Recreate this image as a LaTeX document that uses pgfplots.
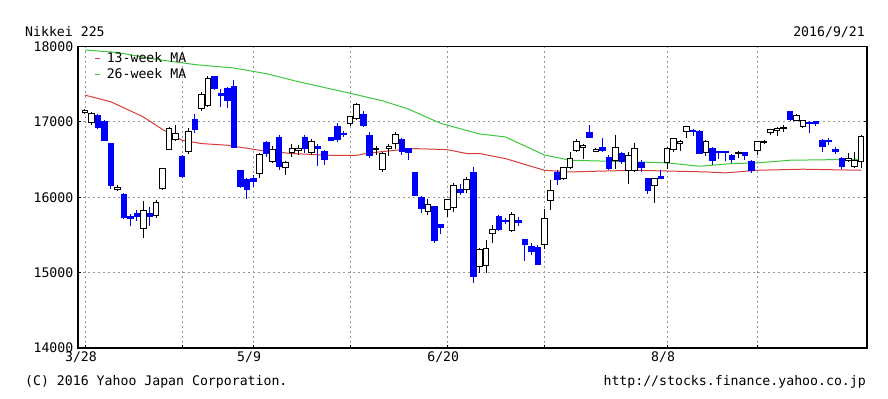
\documentclass[border=0pt]{standalone}
\usepackage{pgfplots}
\pgfplotsset{compat=1.18}
\usepackage{pgfplotstable}
\usepackage{fontspec}
\setmainfont{DejaVu Sans Mono}
\newcommand\cf{\fontsize{13.2bp}{15bp}\selectfont}
\definecolor{mared}{RGB}{214,60,60}
\definecolor{magreen}{RGB}{60,200,60}
\definecolor{candleblue}{RGB}{0,0,255}
\definecolor{gridgray}{RGB}{150,150,150}

\pgfdeclareplotmark{candle}{%
  \pgfpathrectangle{\pgfpoint{-2.8bp}{-0.5bp*\bodyh}}{\pgfpoint{5.6bp}{1bp*\bodyh}}%
  \pgfusepathqfillstroke}

\pgfplotstableread{
i o h l c
0 17125 17170 17100 17150
1 16990 17130 16960 17105
5 16100 16165 16080 16123
9 15590 15950 15457 15821
11 15760 15965 15720 15935
12 16112 16393 16097 16381
13 16640 16930 16627 16911
14 16765 16963 16740 16848
16 16605 16915 16580 16874
18 17180 17390 17150 17363
19 17220 17613 17200 17572
27 16313 16583 16253 16565
29 16470 16680 16450 16640
31 16395 16477 16301 16466
32 16600 16707 16531 16652
33 16620 16688 16560 16644
35 16590 16775 16560 16736
41 16980 17080 16950 17066
42 17044 17251 17023 17234
45 16630 16680 16560 16642
46 16370 16600 16340 16580
47 16645 16706 16550 16675
48 16712 16860 16641 16830
53 15810 15978 15760 15905
56 15834 15977 15736 15965
57 15870 16190 15800 16157
59 16100 16272 16060 16238
61 15085 15330 14990 15305
62 15090 15432 14990 15323
63 15518 15628 15390 15566
66 15555 15799 15540 15776
71 15376 15850 15312 15716
72 15960 16225 15834 16093
74 16248 16402 16230 16394
75 16394 16600 16380 16513
76 16615 16767 16596 16735
77 16665 16700 16513 16681
79 16615 16650 16607 16627
82 16482 16823 16379 16660
84 16358 16600 16170 16557
85 16358 16724 16340 16646
88 16159 16256 15925 16248
90 16460 16668 16379 16646
91 16633 16790 16600 16779
92 16720 16760 16613 16735
93 16867 16942 16780 16933
96 16588 16762 16551 16745
101 16575 16608 16525 16597
104 16624 16749 16558 16737
105 16720 16760 16707 16737
106 16854 16911 16830 16903
107 16890 16930 16810 16910
108 16915 16953 16861 16930
110 17022 17107 17010 17088
111 16934 17030 16920 17012
118 16490 16584 16465 16519
119 16403 16596 16385 16492
120 16469 16829 16385 16807
}\up

\pgfplotstableread{
i o h l c
2 17080 17110 16900 16930
3 17010 17020 16750 16758
4 16719 16725 16112 16164
6 16040 16050 15709 15732
7 15750 15780 15620 15715
8 15780 15830 15689 15749
10 15790 15865 15625 15751
15 16540 16560 16252 16275
17 17040 17100 16851 16906
20 17600 17610 17421 17440
21 17380 17440 17200 17353
22 17440 17460 17187 17290
23 17466 17560 16666 16666
24 16357 16357 16123 16147
25 16240 16250 15975 16106
26 16246 16294 16133 16216
28 16734 16750 16534 16579
30 16800 16820 16361 16412
34 16800 16830 16593 16646
36 16680 16702 16420 16654
37 16614 16630 16426 16498
38 16790 16800 16740 16757
39 16940 16980 16737 16772
40 16850 16880 16800 16838
43 17100 17146 16931 16955
44 16822 16861 16524 16562
49 16765 16790 16560 16610
50 16645 16650 16500 16601
51 16326 16340 16011 16019
52 16000 16010 15790 15859
54 15873 15890 15395 15434
55 15640 15646 15512 15599
58 16100 16180 16033 16065
60 16336 16400 14864 14952
64 15748 15760 15547 15575
65 15700 15720 15650 15682
67 15690 15743 15615 15669
68 15437 15437 15160 15379
69 15346 15389 15230 15276
70 15330 15373 15106 15106
73 16336 16360 16161 16231
78 16860 16956 16780 16795
80 16660 16780 16600 16624
81 16535 16560 16364 16383
83 16588 16600 16440 16476
86 16469 16500 16331 16403
87 16248 16260 16042 16093
89 16279 16358 16239 16254
94 16890 16903 16819 16869
95 16880 16890 16569 16588
97 16646 16660 16431 16486
98 16610 16620 16502 16590
99 16610 16618 16484 16598
100 16557 16570 16454 16497
102 16590 16601 16497 16555
103 16482 16500 16320 16360
109 17133 17150 17007 17037
112 17000 17012 16850 16975
113 17000 17010 16940 16985
114 16757 16770 16600 16672
115 16760 16780 16690 16740
116 16640 16664 16570 16614
117 16522 16530 16380 16405
}\down

\begin{document}
\begin{tikzpicture}
\useasboundingbox (0,0) rectangle (888bp,399bp);
\begin{axis}[
  at={(78bp,51bp)}, anchor=south west,
  width=789bp, height=301.5bp, scale only axis,
  xmin=-1.08, xmax=120.9, ymin=14000, ymax=18000,
  scaled x ticks=false, scaled y ticks=false,
  xtick={0,15,26,41,56,71,90,104},
  xticklabels={3/28,,5/9,,6/20,,8/8,},
  ytick={14000,15000,16000,17000,18000},
  yticklabels={14000,15000,16000,17000,18000},
  xmajorgrids, ymajorgrids,
  grid style={gridgray, line width=0.9bp, dash pattern=on 2bp off 3bp},
  axis line style={black, line width=1.1bp},
  tick style={black, line width=0.8bp},
  major tick length=3bp,
  tick align=inside,
  xtick pos=bottom, ytick pos=both,
  xticklabel style={font=\cf, inner sep=0pt, anchor=north, xshift=-4bp, yshift=-3.5bp},
  yticklabel style={font=\cf, inner sep=0pt, anchor=east, xshift=-4.5bp},
  legend style={at={(rel axis cs:0.021,0.98)}, anchor=north west, draw=none, fill=none,
    font=\cf, inner sep=0pt, row sep=4.5bp, nodes={inner sep=0pt}},
  legend cell align=left,
  legend image code/.code={\draw[#1, line width=1bp] (0bp,0bp) -- (5bp,0bp); \path (11bp,0bp);},
]
% moving averages
\addplot[mared, line width=1bp, mark=none] coordinates {
(0,17355) (4,17266) (9,17067) (12,16898) (15,16756) (18,16712) (22,16690)
(27,16623) (32,16580) (38,16556) (42,16556) (44,16588) (48,16623) (51,16645)
(56,16632) (59,16580) (61,16580) (65,16513) (71,16358) (75,16336) (85,16358)
(96,16336) (99,16323) (104,16358) (111,16372) (120,16358)};
\addlegendentry{13-week MA}
\addplot[magreen, line width=1bp, mark=none] coordinates {
(0,17954) (5,17920) (11,17830) (17,17760) (23,17715) (28,17640) (33,17533)
(41,17379) (46,17280) (50,17170) (55,16980) (61,16840) (65,16800) (71,16561)
(75,16491) (85,16469) (90,16456) (95,16411) (100,16447) (104,16456) (109,16491)
(120,16504)};
\addlegendentry{26-week MA}
% wicks
\addplot[forget plot, draw=none, mark=none,
  error bars/.cd, y dir=minus, y explicit, error mark=none,
  error bar style={draw=candleblue, line width=1bp, solid}]
  table[x=i, y=h, y error expr=\thisrow{h}-\thisrow{l}] {\down};
\addplot[forget plot, draw=none, mark=none,
  error bars/.cd, y dir=minus, y explicit, error mark=none,
  error bar style={draw=black, line width=1bp, solid}]
  table[x=i, y=h, y error expr=\thisrow{h}-\thisrow{l}] {\up};
% bodies
\addplot[forget plot, only marks, mark=candle,
  mark options={draw=candleblue, fill=candleblue, line width=0.7bp, solid},
  visualization depends on={max(0.075375*abs(\thisrow{c}-\thisrow{o}),1.2) \as \bodyh}]
  table[x=i, y expr=(\thisrow{o}+\thisrow{c})/2] {\down};
\addplot[forget plot, only marks, mark=candle,
  mark options={draw=black, fill=white, line width=1bp, solid},
  visualization depends on={max(0.075375*abs(\thisrow{c}-\thisrow{o}),1.2) \as \bodyh}]
  table[x=i, y expr=(\thisrow{o}+\thisrow{c})/2] {\up};
\end{axis}
\node[font=\cf, anchor=base west, inner sep=0pt] at (25bp,362.5bp) {Nikkei 225};
\node[font=\cf, anchor=base east, inner sep=0pt] at (865bp,362.5bp) {2016/9/21};
\node[font=\cf, anchor=base west, inner sep=0pt] at (25bp,14bp) {(C) 2016 Yahoo Japan Corporation.};
\node[font=\cf, anchor=base east, inner sep=0pt] at (866bp,14bp) {http://stocks.finance.yahoo.co.jp};
\end{tikzpicture}
\end{document}
